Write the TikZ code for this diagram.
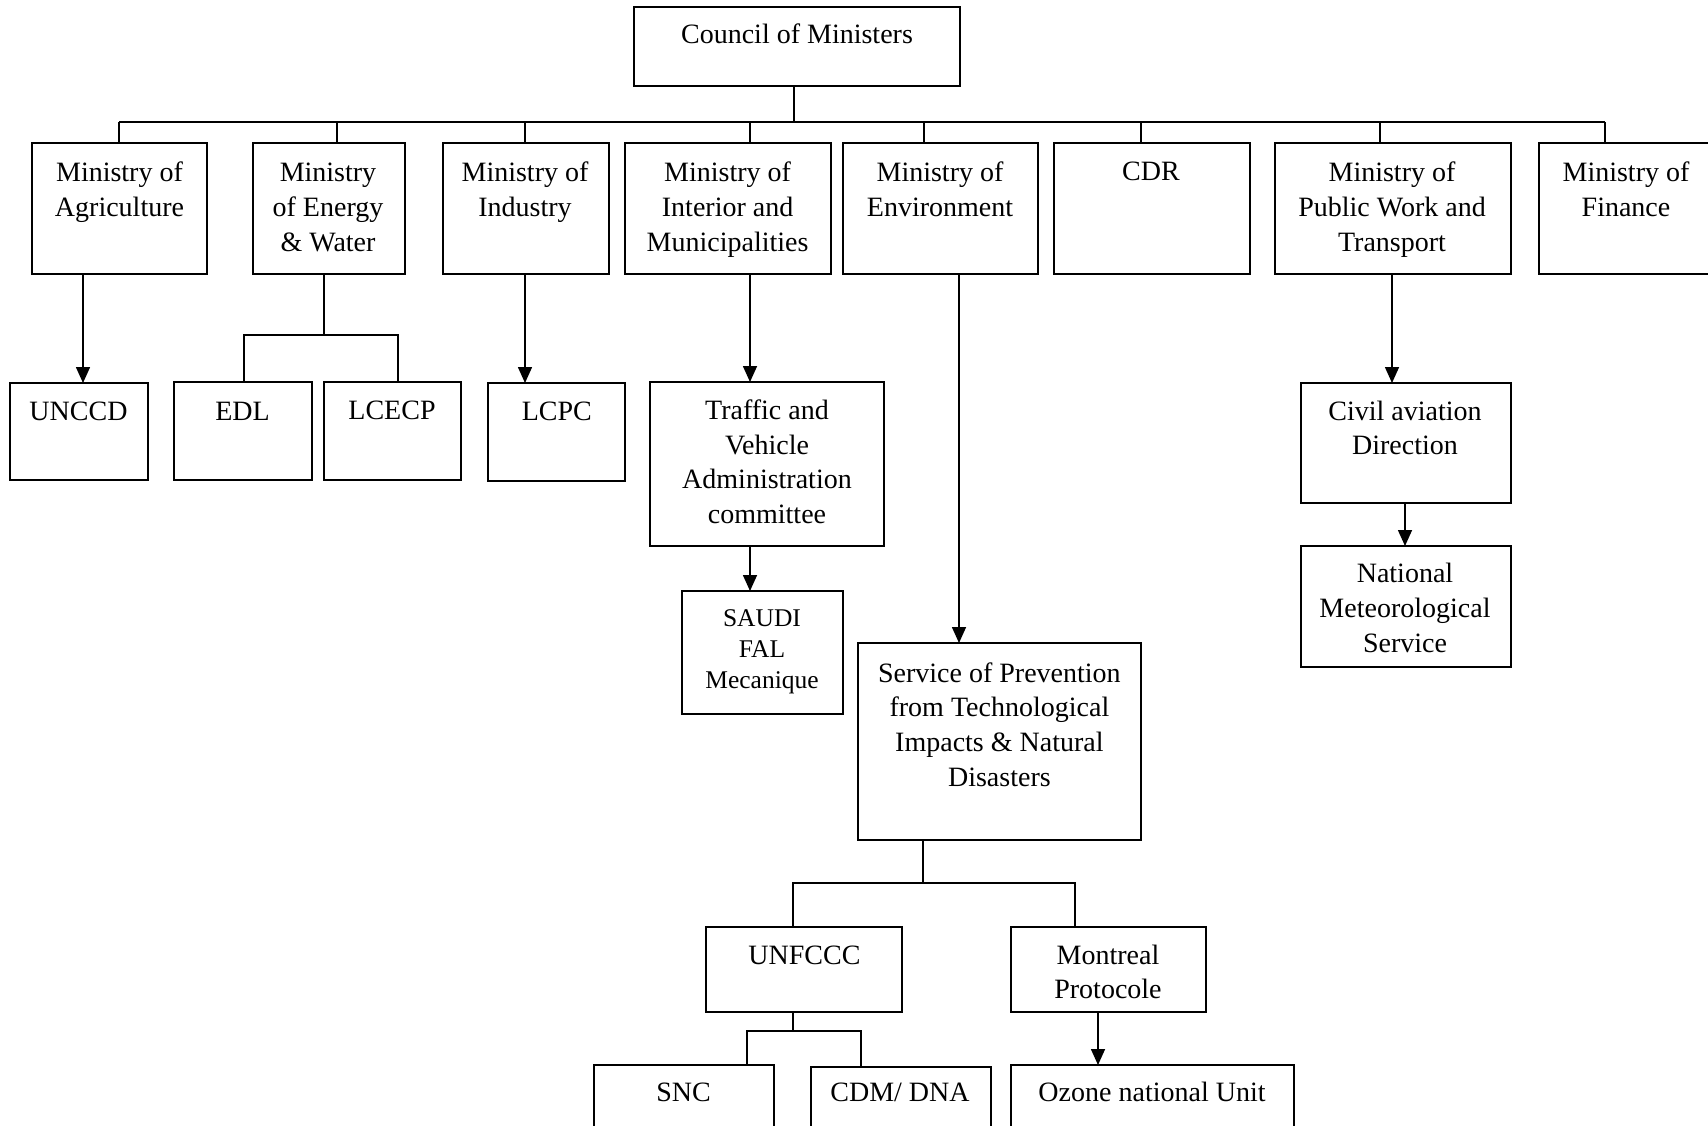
\documentclass[tikz,border=0pt]{standalone}
\usepackage{fontspec}
\setmainfont{Liberation Serif}
\usetikzlibrary{arrows.meta}
\tikzset{
  box/.style={draw, line width=1.6pt, rectangle, inner sep=0pt, outer sep=0pt},
  txt/.style={inner sep=0pt, align=center, anchor=base, font=\fontsize{28}{34.7}\selectfont},
  smalltxt/.style={txt, font=\fontsize{25.5}{31}\selectfont},
  conn/.style={line width=1.6pt},
  arr/.style={conn, -{Triangle[length=16pt,width=14pt]}}
}
\newcommand\mkbox[5]{\node[box, minimum width={#4-#2}, minimum height={#5-#3}] (#1) at ({(#2+#4)/2},{(#3+#5)/2}) {};}
\begin{document}
\begin{tikzpicture}[x=1pt,y=-1pt]
\useasboundingbox (0,0) rectangle (1708,1126);
\clip (0,0) rectangle (1708,1126);
% boxes
\mkbox{council}{634}{7}{960}{86}
\mkbox{agr}{32}{143}{207}{274}
\mkbox{ene}{253}{143}{405}{274}
\mkbox{ind}{443}{143}{609}{274}
\mkbox{int}{625}{143}{831}{274}
\mkbox{env}{843}{143}{1038}{274}
\mkbox{cdr}{1054}{143}{1250}{274}
\mkbox{pub}{1275}{143}{1511}{274}
\mkbox{fin}{1539}{143}{1730}{274}
\mkbox{unccd}{10}{383}{148}{480}
\mkbox{edl}{174}{382}{312}{480}
\mkbox{lcecp}{324}{382}{461}{480}
\mkbox{lcpc}{488}{383}{625}{481}
\mkbox{traffic}{650}{382}{884}{546}
\mkbox{saudi}{682}{591}{843}{714}
\mkbox{service}{858}{643}{1141}{840}
\mkbox{civil}{1301}{383}{1511}{503}
\mkbox{nms}{1301}{546}{1511}{667}
\mkbox{unfccc}{706}{927}{902}{1012}
\mkbox{montreal}{1011}{927}{1206}{1012}
\mkbox{snc}{594}{1065}{774}{1160}
\mkbox{cdm}{811}{1067}{991}{1160}
\mkbox{ozone}{1011}{1065}{1294}{1160}
% texts (anchor = baseline of the last line)
\node[txt] (tcouncil) at (797,44) {Council of Ministers};
\node[txt] (tagr) at (119.5,216.7) {Ministry of\\Agriculture};
\node[txt] (tene) at (328,251.4) {Ministry\\of Energy\\\& Water};
\node[txt] (tind) at (525,216.7) {Ministry of\\Industry};
\node[txt] (tint) at (727.6,251.4) {Ministry of\\Interior and\\Municipalities};
\node[txt] (tenv) at (940,216.7) {Ministry of\\Environment};
\node[txt] (tcdr) at (1151,181) {CDR};
\node[txt] (tpub) at (1392,251.4) {Ministry of\\Public Work and\\Transport};
\node[txt] (tfin) at (1626,216.7) {Ministry of\\Finance};
\node[txt] (tunccd) at (78.5,420) {UNCCD};
\node[txt] (tedl) at (242.5,420) {EDL};
\node[txt] (tlcecp) at (392,419) {LCECP};
\node[txt] (tlcpc) at (556.8,420) {LCPC};
\node[txt] (ttraffic) at (767,523.6) {Traffic and\\Vehicle\\Administration\\committee};
\node[smalltxt] (tsaudi) at (762,688.4) {SAUDI\\FAL\\Mecanique};
\node[txt] (tservice) at (999.4,786.1) {Service of Prevention\\from Technological\\Impacts \& Natural\\Disasters};
\node[txt] (tcivil) at (1405,454.7) {Civil aviation\\Direction};
\node[txt] (tnms) at (1405,652.1) {National\\Meteorological\\Service};
\node[txt] (tunfccc) at (804.5,964) {UNFCCC};
\node[txt] (tmontreal) at (1108,998.7) {Montreal\\Protocole};
\node[txt] (tsnc) at (683.6,1101) {SNC};
\node[txt] (tcdm) at (900,1101) {CDM/ DNA};
\node[txt] (tozone) at (1152,1101) {Ozone national Unit};
% main bus
\coordinate (busL) at (119,122);
\coordinate (busR) at (1605,122);
\coordinate (busC) at (794,122);
\draw[conn] (busL) -- (busR);
\draw[conn] (council.south -| busC) -- (busC);
\foreach \n/\x in {agr/119, ene/337, ind/525, int/750, env/924, cdr/1141, pub/1380, fin/1605} {
  \coordinate (drop-\n) at (\x,122);
  \draw[conn] (drop-\n) -- (drop-\n |- \n.north);
}
% arrows
\foreach \f/\t/\x in {agr/unccd/83, ind/lcpc/525, int/traffic/750, traffic/saudi/750, env/service/959, pub/civil/1392, civil/nms/1405, montreal/ozone/1098} {
  \coordinate (x-\t) at (\x,0);
  \draw[arr] (\f.south -| x-\t) -- (\t.north -| x-\t);
}
% energy tree
\coordinate (eneJ) at (324,335);
\coordinate (eneL) at (244,335);
\coordinate (eneR) at (398,335);
\draw[conn] (ene.south -| eneJ) -- (eneJ);
\draw[conn] (edl.north -| eneL) -- (eneL) -- (eneR) -- (lcecp.north -| eneR);
% service tree
\coordinate (svcJ) at (923,883);
\coordinate (svcL) at (793,883);
\coordinate (svcR) at (1075,883);
\draw[conn] (service.south -| svcJ) -- (svcJ);
\draw[conn] (unfccc.north -| svcL) -- (svcL) -- (svcR) -- (montreal.north -| svcR);
% unfccc tree
\coordinate (unJ) at (793,1031);
\coordinate (unL) at (747,1031);
\coordinate (unR) at (861,1031);
\draw[conn] (unfccc.south -| unJ) -- (unJ);
\draw[conn] (snc.north -| unL) -- (unL) -- (unR) -- (cdm.north -| unR);
\end{tikzpicture}
\end{document}
